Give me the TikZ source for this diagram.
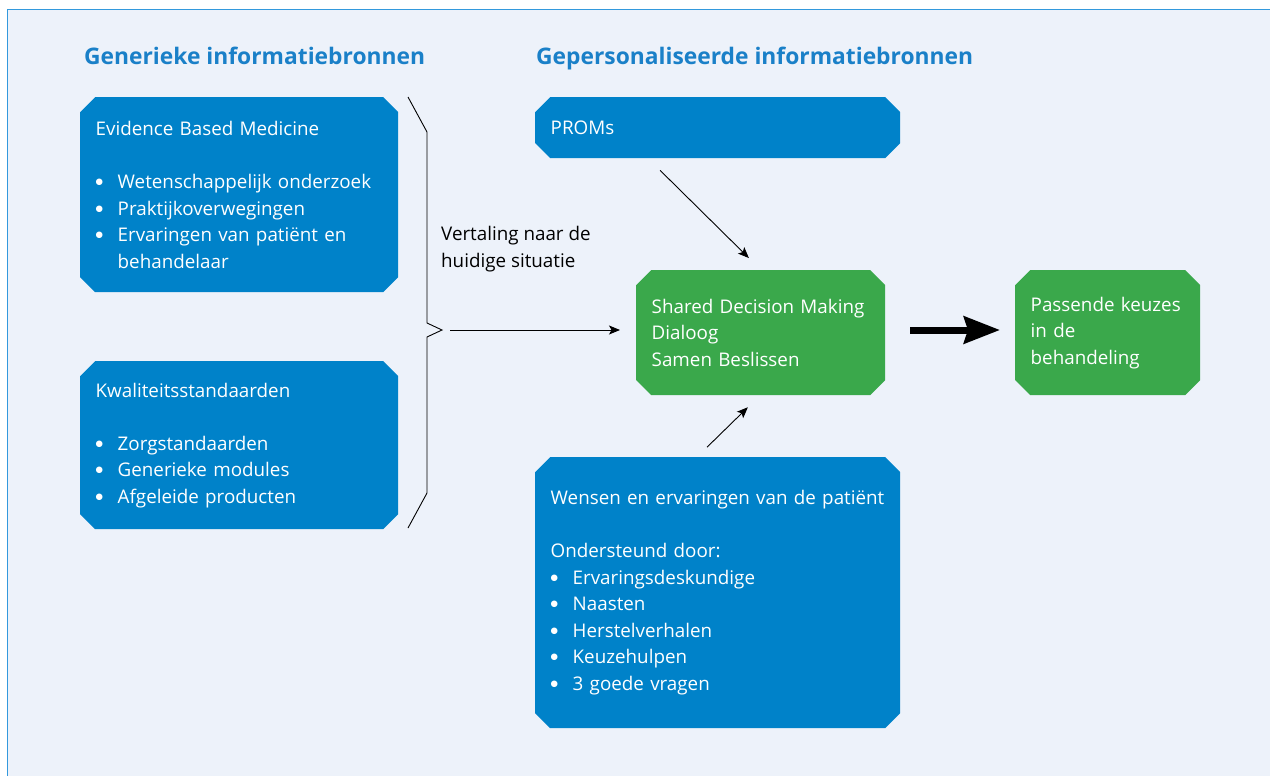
\documentclass[tikz,border=0pt]{standalone}
\usepackage{fontspec}
\setmainfont{Open Sans}
\newfontfamily\dejavu{DejaVu Sans}
\usetikzlibrary{arrows.meta,calc}
\definecolor{bgblue}{HTML}{EDF2FA}
\definecolor{framec}{HTML}{3399DD}
\definecolor{boxblue}{HTML}{0082C9}
\definecolor{boxgreen}{HTML}{3AA84B}
\definecolor{headblue}{HTML}{1A80C8}
\newcommand\boxfont{\fontsize{18.8}{26.5}\selectfont}
\newcommand\headfont{\fontsize{22.8}{26}\selectfont\bfseries}
\newcommand\bul{\makebox[22pt][l]{{\dejavu\fontsize{8.5}{0}\selectfont\raisebox{4pt}{●}}}}
\tikzset{
  chbox/.style={inner xsep=15.5pt, inner ysep=0pt, align=left, text=white,
    font=\boxfont, anchor=north west,
    path picture={\fill[#1]
      ([xshift=15pt]path picture bounding box.north west) --
      ([xshift=-15pt]path picture bounding box.north east) --
      ([yshift=-15pt]path picture bounding box.north east) --
      ([yshift=15pt]path picture bounding box.south east) --
      ([xshift=-15pt]path picture bounding box.south east) --
      ([xshift=15pt]path picture bounding box.south west) --
      ([yshift=15pt]path picture bounding box.south west) --
      ([yshift=-15pt]path picture bounding box.north west) -- cycle;}},
  heading/.style={font=\headfont, text=headblue, anchor=base west, inner sep=0pt},
  thin/.style={draw=black, line width=0.9pt, -{Stealth[length=11pt,width=9pt,inset=2.5pt]}},
  bracec/.style={draw=black, line width=0.9pt, line join=miter}
}
\begin{document}
\begin{tikzpicture}[x=1pt,y=-1pt]
\useasboundingbox (0,0) rectangle (1270,776);
\fill[white] (0,0) rectangle (1270,776);
\fill[bgblue] (7.5,9.5) rectangle (1280,790);
\draw[framec, line width=1.3pt] (1280,9.5) -- (7.5,9.5) -- (7.5,790);

\node[heading] (h1) at (84,65) {Generieke informatiebronnen};
\node[heading] (h2) at (536,65) {Gepersonaliseerde informatiebronnen};

\node[chbox=boxblue, minimum width=318pt, minimum height=195pt, text width=287pt] (ebm) at (80,97)
 {Evidence Based Medicine\\[26.5pt]
  \bul Wetenschappelijk onderzoek\\
  \bul Praktijkoverwegingen\\
  \bul Ervaringen van patiënt en\\
  \hspace*{22pt}behandelaar};

\node[chbox=boxblue, minimum width=318pt, minimum height=168pt, text width=287pt] (kwal) at (80,361)
 {Kwaliteitsstandaarden\\[26.5pt]
  \bul Zorgstandaarden\\
  \bul Generieke modules\\
  \bul Afgeleide producten};

\node[chbox=boxblue, minimum width=365pt, minimum height=61pt, text width=334pt] (proms) at (535,97)
 {PROMs};

\node[chbox=boxblue, minimum width=365pt, minimum height=271pt, text width=334pt] (wens) at (535,457)
 {Wensen en ervaringen van de patiënt\\[26.5pt]
  Ondersteund door:\\
  \bul Ervaringsdeskundige\\
  \bul Naasten\\
  \bul Herstelverhalen\\
  \bul Keuzehulpen\\
  \bul 3 goede vragen};

\node[chbox=boxgreen, minimum width=249pt, minimum height=125pt, text width=218pt] (sdm) at (636,270)
 {Shared Decision Making\\
  Dialoog\\
  Samen Beslissen};

\node[chbox=boxgreen, minimum width=185pt, minimum height=125pt, text width=154pt] (pass) at (1015,270)
 {Passende keuzes\\
  in de\\
  behandeling};

\node[anchor=base west, inner sep=0pt, align=left, font=\boxfont, text=black] (vert) at (441,267)
 {Vertaling naar de\\huidige situatie};

% brace
\coordinate (btip) at (442,330);
\draw[bracec] (408,97) -- (427,132) -- (427,323) -- (btip) -- (427,337) -- (427,493) -- (408,528);

% connectors
\draw[thin, shorten <=8pt, shorten >=16pt] (btip) -- (btip -| sdm.west);
\draw[thin, shorten <=17pt, shorten >=17pt] ([xshift=113pt]proms.south west) -- ([xshift=125pt]sdm.north west);
\draw[thin, shorten <=14pt, shorten >=17pt] ([xshift=162pt]wens.north west) -- ([xshift=124pt]sdm.south west);
\draw[black, line width=7pt, -{Stealth[length=36pt,width=27pt,inset=4pt]}, shorten <=25pt, shorten >=15pt]
  ([yshift=-60pt]sdm.north east) -- ([yshift=-60pt]pass.north west);
\end{tikzpicture}
\end{document}
